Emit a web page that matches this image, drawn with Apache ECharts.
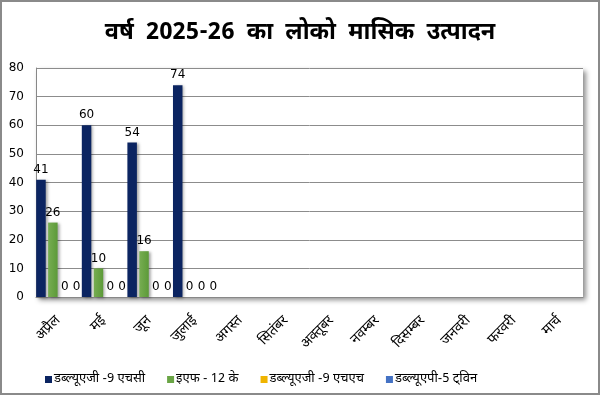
<!DOCTYPE html>
<html>
<head>
<meta charset="utf-8">
<script src="https://cdn.jsdelivr.net/npm/echarts@6/dist/echarts.min.js"></script>
<style>
html,body{margin:0;padding:0;background:#fff;}
#c{width:600px;height:395px;box-sizing:border-box;border:2px solid #8a8a8a;}
</style>
</head>
<body>
<div id="c"></div>
<script>
const titleText = 'वर्ष  2025-26  का  लोको  मासिक  उत्पादन';
const months = ['अप्रैल','मई','जून','जुलाई','अगस्त','सितंबर','अक्तूबर','नवम्बर','दिसम्बर','जनवरी','फरवरी','मार्च'];
const seriesNames = ['डब्ल्यूएजी -9 एचसी','इएफ - 12 के','डब्ल्यूएजी -9 एचएच','डब्ल्यूएपी-5 ट्विन'];
const wag9hc = [41, 60, 54, 74, null, null, null, null, null, null, null, null];
const ef12k = [26, 10, 16, 0, null, null, null, null, null, null, null, null];
const wag9hh = [0, 0, 0, 0, null, null, null, null, null, null, null, null];
const wap5 = [0, 0, 0, 0, null, null, null, null, null, null, null, null];
const yTicks = {min: 0, max: 80, interval: 10};

const FONT = '"Noto Sans Devanagari","Noto Sans",Verdana,"DejaVu Sans",sans-serif';
const colors = [
  '#0b2461',
  new echarts.graphic.LinearGradient(0,0,1,0,[{offset:0,color:'#77ad52'},{offset:1,color:'#5c9a38'}]),
  '#f0b400',
  '#4472c4'
];
const legendColors = ['#0b2461','#6aa545','#f0b400','#4472c4'];
const datas = [wag9hc, ef12k, wag9hh, wap5];

const chart = echarts.init(document.getElementById('c'), null, {renderer:'canvas'});
chart.setOption({
  animation: false,
  textStyle: {fontFamily: FONT},
  title: {
    text: titleText, left: 'center', top: 16,
    textStyle: {fontFamily: FONT, fontSize: 23.5, fontWeight: 'bold', color: '#000'}
  },
  legend: {
    bottom: 2, left: 38, itemWidth: 7, itemHeight: 7, itemGap: 22,
    icon: 'rect',
    textStyle: {fontFamily: FONT, fontSize: 13, color: '#000', padding: [0,0,0,-3]},
    data: seriesNames.map((n,i)=>({name:n, itemStyle:{color:legendColors[i]}}))
  },
  grid: {
    left: 34, right: 15, top: 66, bottom: 96, show: true,
    backgroundColor: '#fff', borderWidth: 0,
    shadowColor: 'rgba(0,0,0,0.45)', shadowBlur: 5, shadowOffsetX: 3, shadowOffsetY: 3
  },
  xAxis: {
    type: 'category', data: months,
    axisLine: {show: true, lineStyle: {color: '#888'}},
    axisTick: {show: false},
    axisLabel: {rotate: 45, fontFamily: FONT, fontSize: 14, color: '#000', margin: 22, interval: 0}
  },
  yAxis: {
    type: 'value', min: yTicks.min, max: yTicks.max, interval: yTicks.interval,
    axisLine: {show: true, lineStyle: {color: '#888'}},
    axisTick: {show: false},
    axisLabel: {fontFamily: 'Verdana,"DejaVu Sans",sans-serif', fontSize: 12, color: '#000', margin: 12},
    splitLine: {lineStyle: {color: '#8c8c8c', width: 1}}
  },
  series: datas.map((d,i)=>({
    name: seriesNames[i], type: 'bar', data: d,
    barWidth: 9.5, barGap: '25%',
    itemStyle: {color: colors[i], shadowColor: 'rgba(0,0,0,0.35)', shadowBlur: 3, shadowOffsetX: 2, shadowOffsetY: 1},
    label: {show: true, position: 'top', fontFamily: 'Verdana,"DejaVu Sans",sans-serif', fontSize: 12, color: '#000', distance: 4}
  }))
});
</script>
</body>
</html>
